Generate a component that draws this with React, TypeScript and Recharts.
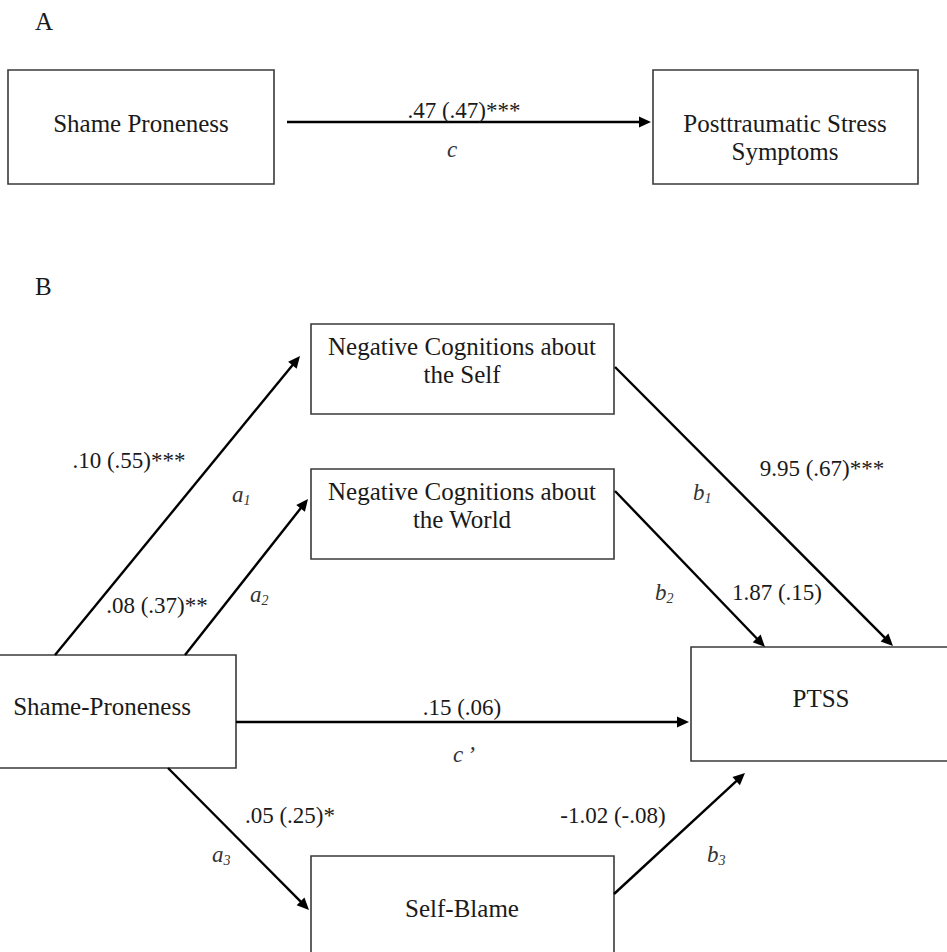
import React from 'react';
import { ScatterChart, Scatter, XAxis, YAxis, ReferenceArea, ReferenceLine } from 'recharts';

// node names (line breaks as in the figure)
const nodeLines = [
  ['Shame Proneness'],
  ['Posttraumatic Stress', 'Symptoms'],
  ['Negative Cognitions about', 'the Self'],
  ['Negative Cognitions about', 'the World'],
  ['Shame-Proneness'],
  ['PTSS'],
  ['Self-Blame'],
];

// path coefficients: unstandardized (standardized) + significance
const pathCoefs = ['.47 (.47)***', '.10 (.55)***', '.08 (.37)**', '.15 (.06)', '.05 (.25)*', '9.95 (.67)***', '1.87 (.15)', '-1.02 (-.08)'];
const pathSymbols = ['c', 'a1', 'a2', "c'", 'a3', 'b1', 'b2', 'b3'];
const panelLetters = ['A', 'B'];

// layout (figure units, 0..947 x 0..952, y down)
const boxLayout = [
  { x1: 8, x2: 274, y1: 70, y2: 184, tx: 141, ty: 132 },
  { x1: 653, x2: 918, y1: 70, y2: 184, tx: 785, ty: 132 },
  { x1: 311, x2: 614, y1: 324, y2: 414, tx: 462, ty: 355 },
  { x1: 311, x2: 614, y1: 469, y2: 559, tx: 462, ty: 500 },
  { x1: -4, x2: 236, y1: 655, y2: 768, tx: 102, ty: 715 },
  { x1: 691, x2: 960, y1: 647, y2: 761, tx: 821, ty: 707 },
  { x1: 311, x2: 614, y1: 856, y2: 975, tx: 462, ty: 917 },
];

const arrowLayout = [
  { from: { x: 287, y: 122 }, to: { x: 651, y: 122 }, cx: 464, cy: 118, sx: 447, sy: 157 },
  { from: { x: 55, y: 655 }, to: { x: 300, y: 356 }, cx: 129, cy: 468, sx: 232, sy: 502 },
  { from: { x: 185, y: 655 }, to: { x: 308, y: 499 }, cx: 157, cy: 613, sx: 250, sy: 602 },
  { from: { x: 236, y: 722 }, to: { x: 689, y: 722 }, cx: 462, cy: 715, sx: 453, sy: 762 },
  { from: { x: 168, y: 768 }, to: { x: 309, y: 910 }, cx: 290, cy: 823, sx: 212, sy: 862 },
  { from: { x: 615, y: 367 }, to: { x: 893, y: 646 }, cx: 822, cy: 476, sx: 693, sy: 500 },
  { from: { x: 615, y: 491 }, to: { x: 765, y: 647 }, cx: 777, cy: 600, sx: 655, sy: 600 },
  { from: { x: 614, y: 894 }, to: { x: 745, y: 773 }, cx: 613, cy: 823, sx: 707, sy: 862 },
];

const letterLayout = [{ x: 35, y: 30 }, { x: 35, y: 295 }];

const FONT = '"Liberation Serif", "Times New Roman", serif';
const INK = '#1a1a1a';

function Arrow(props: any) {
  const { x1, y1, x2, y2 } = props;
  const dx = x2 - x1, dy = y2 - y1;
  const len = Math.hypot(dx, dy) || 1;
  const ux = dx / len, uy = dy / len;
  const L = 12, W = 5.5;
  const bx = x2 - ux * L, by = y2 - uy * L;
  return (
    <g>
      <line x1={x1} y1={y1} x2={bx + ux * 2} y2={by + uy * 2} stroke="#000" strokeWidth={2.4} />
      <polygon points={`${x2},${y2} ${bx - uy * W},${by + ux * W} ${bx + uy * W},${by - ux * W}`} fill="#000" />
    </g>
  );
}

function TextMark(props: any) {
  const { cx, cy, payload } = props;
  if (cx == null || cy == null) return null;
  const p = payload;
  if (p.kind === 'node') {
    return (
      <text x={cx} y={cy} textAnchor="middle" fontFamily={FONT} fontSize={25} fill={INK}>
        {p.lines.map((l: string, i: number) => (
          <tspan key={i} x={cx} dy={i === 0 ? 0 : 28}>{l}</tspan>
        ))}
      </text>
    );
  }
  if (p.kind === 'coef') {
    return <text x={cx} y={cy} textAnchor="middle" fontFamily={FONT} fontSize={23} fill={INK}>{p.text}</text>;
  }
  if (p.kind === 'letter') {
    return <text x={cx} y={cy} fontFamily={FONT} fontSize={25} fill={INK}>{p.text}</text>;
  }
  // path symbol, italic with subscript
  const base = p.text[0];
  const rest = p.text.slice(1);
  return (
    <text x={cx} y={cy} fontFamily={FONT} fontSize={23} fontStyle="italic" fill="#333">
      {base}
      {rest === "'" ? <tspan dx={4}>{'\u2019'}</tspan> : rest ? <tspan fontSize={14} dy={3}>{rest}</tspan> : null}
    </text>
  );
}

export default function App() {
  const textData = [
    ...nodeLines.map((lines, i) => ({ kind: 'node', lines, x: boxLayout[i].tx, y: boxLayout[i].ty })),
    ...pathCoefs.map((text, i) => ({ kind: 'coef', text, x: arrowLayout[i].cx, y: arrowLayout[i].cy })),
    ...pathSymbols.map((text, i) => ({ kind: 'sym', text, x: arrowLayout[i].sx, y: arrowLayout[i].sy })),
    ...panelLetters.map((text, i) => ({ kind: 'letter', text, x: letterLayout[i].x, y: letterLayout[i].y })),
  ];

  return (
    <div style={{ position: 'absolute', left: 0, top: 0, width: 947, height: 952, background: '#fff', overflow: 'hidden' }}>
      <ScatterChart width={947} height={952} margin={{ top: 0, right: 0, bottom: 0, left: 0 }}>
        <XAxis type="number" dataKey="x" domain={[0, 947]} hide allowDataOverflow />
        <YAxis type="number" dataKey="y" domain={[0, 952]} reversed hide allowDataOverflow />
        {boxLayout.map((b, i) => (
          <ReferenceArea key={'b' + i} x1={b.x1} x2={b.x2} y1={b.y1} y2={b.y2}
            fill="none" stroke="#3a3a3a" strokeWidth={1.6} ifOverflow="hidden" />
        ))}
        {arrowLayout.map((a, i) => (
          <ReferenceLine key={'a' + i} segment={[a.from, a.to]} ifOverflow="visible" shape={Arrow} />
        ))}
        <Scatter data={textData} shape={TextMark} isAnimationActive={false} />
      </ScatterChart>
    </div>
  );
}
